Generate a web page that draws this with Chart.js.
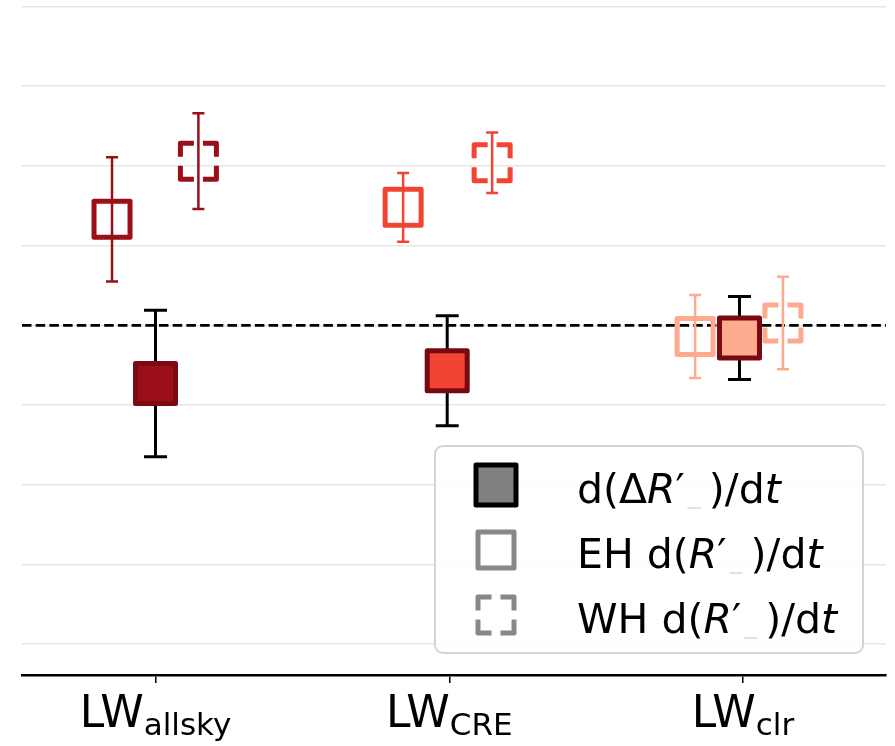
<!DOCTYPE html>
<html>
<head>
<meta charset="utf-8">
<script src="https://cdn.jsdelivr.net/npm/chart.js@4.4.0/dist/chart.umd.min.js"></script>
<style>body{margin:0;background:#fff}</style>
</head>
<body>
<canvas id="myChart" width="895" height="746"></canvas>
<script>
var categories = ['allsky', 'CRE', 'clr'];
// d(dR')/dt  (filled squares)
var trendX = [0, 0.993, 1.988];
var trendY = [-0.073, -0.057, -0.016];
var trendErr = [0.092, 0.069, 0.052];
// EH d(R')/dt  (open squares)
var ehX = [-0.148, 0.843, 1.837];
var ehY = [0.133, 0.148, -0.014];
var ehErr = [0.078, 0.043, 0.052];
// WH d(R')/dt  (dashed squares)
var whX = [0.146, 1.146, 2.136];
var whY = [0.206, 0.204, 0.003];
var whErr = [0.060, 0.038, 0.058];
var yTicks = [-0.4, -0.3, -0.2, -0.1, 0, 0.1, 0.2, 0.3, 0.4];
var xTicks = [0, 1, 2];
var fillColors = ['#9a0f18', '#f14432', '#fcab8f'];
var edgeColors = ['#7d0a12', '#780812', '#780812'];

var FONT = '"DejaVu Sans", sans-serif';

function pts(xs, ys) {
  return xs.map(function (x, i) { return { x: x, y: ys[i] }; });
}

function errbar(ctx, x, y1, y2, half, color, lw) {
  ctx.save();
  ctx.strokeStyle = color;
  ctx.lineWidth = lw;
  ctx.beginPath();
  ctx.moveTo(x, y1); ctx.lineTo(x, y2);
  ctx.moveTo(x - half, y1); ctx.lineTo(x + half, y1);
  ctx.moveTo(x - half, y2); ctx.lineTo(x + half, y2);
  ctx.stroke();
  ctx.restore();
}

function square(ctx, x, y, s, fill, stroke, lw) {
  ctx.save();
  ctx.lineJoin = 'round';
  ctx.beginPath();
  ctx.rect(x - s / 2, y - s / 2, s, s);
  if (fill) { ctx.fillStyle = fill; ctx.fill(); }
  ctx.strokeStyle = stroke;
  ctx.lineWidth = lw;
  ctx.stroke();
  ctx.restore();
}

function dashedSquare(ctx, x, y, s, stroke, lw, gap) {
  var h = s / 2, a = h - gap / 2;
  ctx.save();
  ctx.lineJoin = 'round';
  ctx.lineCap = 'butt';
  ctx.strokeStyle = stroke;
  ctx.lineWidth = lw;
  ctx.beginPath();
  [[-1, -1], [1, -1], [1, 1], [-1, 1]].forEach(function (c) {
    var cx = x + c[0] * h, cy = y + c[1] * h;
    ctx.moveTo(cx, cy - c[1] * a);
    ctx.lineTo(cx, cy);
    ctx.lineTo(cx - c[0] * a, cy);
  });
  ctx.stroke();
  ctx.restore();
}

function richText(ctx, x, y, parts) {
  parts.forEach(function (p) {
    var size = p.size || 41;
    ctx.font = (p.it ? 'italic ' : '') + size + 'px ' + FONT;
    ctx.fillStyle = p.color || '#000';
    x += p.pre || 0;
    ctx.fillText(p.t, x, y + (p.dy || 0));
    x += ctx.measureText(p.t).width + (p.post || 0);
  });
}

var drawMarks = {
  id: 'drawMarks',
  beforeDatasetsDraw: function (chart) {
    var ctx = chart.ctx, a = chart.chartArea, ys = chart.scales.y;
    var y0 = ys.getPixelForValue(0);
    ctx.save();
    ctx.strokeStyle = '#000';
    ctx.lineWidth = 2.7;
    ctx.setLineDash([9.5, 4.2]);
    ctx.beginPath();
    ctx.moveTo(a.left, y0); ctx.lineTo(a.right, y0);
    ctx.stroke();
    ctx.restore();
  },
  afterDatasetsDraw: function (chart) {
    var ctx = chart.ctx, ys = chart.scales.y;
    var eh = chart.getDatasetMeta(1).data;
    var wh = chart.getDatasetMeta(2).data;
    var tr = chart.getDatasetMeta(0).data;
    eh.forEach(function (p, i) {
      errbar(ctx, p.x, ys.getPixelForValue(ehY[i] + ehErr[i]), ys.getPixelForValue(ehY[i] - ehErr[i]), 6, fillColors[i], 2.5);
      square(ctx, p.x, p.y, 36, null, fillColors[i], 5);
    });
    wh.forEach(function (p, i) {
      errbar(ctx, p.x, ys.getPixelForValue(whY[i] + whErr[i]), ys.getPixelForValue(whY[i] - whErr[i]), 6, fillColors[i], 2.5);
      dashedSquare(ctx, p.x, p.y, 36, fillColors[i], 5, 9);
    });
    tr.forEach(function (p, i) {
      errbar(ctx, p.x, ys.getPixelForValue(trendY[i] + trendErr[i]), ys.getPixelForValue(trendY[i] - trendErr[i]), 11.5, '#000', 3);
      square(ctx, p.x, p.y, 40, fillColors[i], edgeColors[i], 5);
    });
  },
  afterDraw: function (chart) {
    var ctx = chart.ctx, xs = chart.scales.x;
    // x tick labels with subscripts
    ctx.save();
    ctx.textBaseline = 'alphabetic';
    categories.forEach(function (c, i) {
      var cx = xs.getPixelForValue(xTicks[i]);
      ctx.font = '44px ' + FONT;
      var w1 = ctx.measureText('LW').width;
      ctx.font = '31px ' + FONT;
      var w2 = ctx.measureText(c).width;
      var x = cx - (w1 + w2) / 2;
      ctx.fillStyle = '#000';
      ctx.font = '44px ' + FONT;
      ctx.fillText('LW', x, 727);
      ctx.font = '31px ' + FONT;
      ctx.fillText(c, x + w1, 735);
    });
    // legend
    var lx = 435, ly = 446, lw = 428, lh = 207, r = 8;
    ctx.beginPath();
    ctx.roundRect(lx, ly, lw, lh, r);
    ctx.fillStyle = 'rgba(255,255,255,0.85)';
    ctx.fill();
    ctx.strokeStyle = '#d4d4d4';
    ctx.lineWidth = 2;
    ctx.stroke();
    square(ctx, 496, 485, 40, '#808080', '#000', 5);
    square(ctx, 496, 550, 36, null, '#888888', 5);
    dashedSquare(ctx, 496, 615, 36, '#888888', 5, 9);
    var gray = '#e0e0e0';
    richText(ctx, 577, 503, [{ t: 'd(Δ' }, { t: 'R', it: true }, { t: '′' }, { t: '_', size: 26, color: gray, pre: 3 }, { t: ')/d', pre: 8 }, { t: 't', it: true }]);
    richText(ctx, 577, 568, [{ t: 'EH d(' }, { t: 'R', it: true }, { t: '′' }, { t: '_', size: 26, color: gray, pre: 3 }, { t: ')/d', pre: 8 }, { t: 't', it: true }]);
    richText(ctx, 577, 633, [{ t: 'WH d(' }, { t: 'R', it: true }, { t: '′' }, { t: '_', size: 26, color: gray, pre: 3 }, { t: ')/d', pre: 8 }, { t: 't', it: true }]);
    ctx.restore();
  }
};

var ctx = document.getElementById('myChart');
var myChart = new Chart(ctx, {
  type: 'scatter',
  data: {
    datasets: [
      { label: 'trend', data: pts(trendX, trendY), pointRadius: 0, pointHoverRadius: 0 },
      { label: 'EH', data: pts(ehX, ehY), pointRadius: 0, pointHoverRadius: 0 },
      { label: 'WH', data: pts(whX, whY), pointRadius: 0, pointHoverRadius: 0 }
    ]
  },
  options: {
    responsive: false,
    animation: false,
    events: [],
    layout: { padding: { top: 0, right: 9, left: 0, bottom: 0 } },
    plugins: { legend: { display: false }, tooltip: { enabled: false } },
    scales: {
      x: {
        type: 'linear',
        min: -0.4545,
        max: 2.4868,
        afterBuildTicks: function (s) { s.ticks = xTicks.map(function (v) { return { value: v }; }); },
        afterFit: function (s) { s.height = 71; },
        ticks: { callback: function () { return ''; } },
        grid: { drawOnChartArea: false, drawTicks: true, tickLength: 8, color: '#000', lineWidth: 1.5 },
        border: { color: '#000', width: 2.5 }
      },
      y: {
        min: -0.4388,
        max: 0.4082,
        afterBuildTicks: function (s) { s.ticks = yTicks.map(function (v) { return { value: v }; }); },
        afterFit: function (s) { s.width = 22; },
        ticks: { display: false },
        grid: { color: '#e6e6e6', lineWidth: 1.5, drawTicks: false },
        border: { display: false }
      }
    }
  },
  plugins: [drawMarks]
});
</script>
</body>
</html>
